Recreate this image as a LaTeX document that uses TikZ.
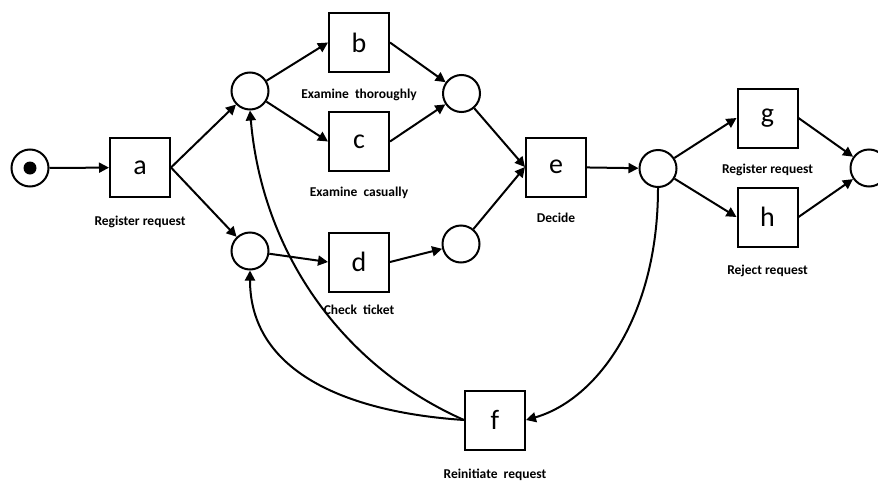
\documentclass[tikz,border=0pt]{standalone}
\usepackage{fontspec}
\setmainfont{Carlito}
\usetikzlibrary{arrows.meta,positioning}

\begin{document}
\begin{tikzpicture}
    [x=1pt, y=1pt, line width=2pt,
    place/.style={draw,circle,minimum size=37pt,inner sep=0pt},
    trans/.style={draw,rectangle,minimum width=60pt,minimum height=59pt,inner sep=0pt,
        font=\fontsize{28}{28}\selectfont},
    lbl/.style={font=\bfseries\fontsize{13.5}{14}\selectfont,inner sep=0pt,
        text height=9pt,text depth=3pt},
    arc/.style={-{Triangle[length=10pt,width=10pt]}}]
    \useasboundingbox (0,0) rectangle (878,-482);

    % places
    \node[place] (start) at (30,-168) {};
    \fill (start) circle (6.5pt);
    \node[place] (p1) at (250,-91) {};
    \node[place] (p3) at (250,-251) {};
    \node[place] (p2) at (461.5,-93.5) {};
    \node[place] (p4) at (461,-244) {};
    \node[place] (p5) at (658,-168.5) {};
    \node[place] (pend) at (869,-168) {};

    % transitions
    \node[trans] (a) at (140,-167.5) {a};
    \node[trans] (b) at (359,-42.5) {b};
    \node[trans] (c) at (359,-141.5) {c};
    \node[trans] (d) at (359,-262) {d};
    \node[trans] (e) at (556,-167) {e};
    \node[trans] (f) at (495,-420) {f};
    \node[trans] (g) at (767.5,-118) {g};
    \node[trans] (h) at (767.5,-217) {h};

    \node[lbl, below=17pt of a] (la) {Register request};
    \node[lbl, below=15pt of b] (lb) {Examine~~thoroughly};
    \node[lbl, below=14pt of c] (lc) {Examine~~casually};
    \node[lbl, below=12pt of d] (ld) {Check~~ticket};
    \node[lbl, below=15pt of e] (le) {Decide};
    \node[lbl, below=18pt of f] (lf) {Reinitiate~~request};
    \node[lbl, below=15pt of g] (lg) {Register request};
    \node[lbl, below=17pt of h] (lh) {Reject request};

    \draw[arc] (start) -- (a);
    \draw[arc] (a.east) -- (p1);
    \draw[arc] (a.east) -- (p3);
    \draw[arc] (p1) -- (b.west);
    \draw[arc] (p1) -- (c.west);
    \draw[arc] (p3) -- (d.west);
    \draw[arc] (b.east) -- (p2);
    \draw[arc] (c.east) -- (p2);
    \draw[arc] (d.east) -- (p4);
    \draw[arc] (p2) -- (e.west);
    \draw[arc] (p4) -- (e.west);
    \draw[arc] (e) -- (p5);
    \draw[arc] (p5) -- (g.west);
    \draw[arc] (p5) -- (h.west);
    \draw[arc] (g.east) -- (pend);
    \draw[arc] (h.east) -- (pend);

    % loop back
    \draw[arc] (p5.south) .. controls +(0,-130) and +(70,20) .. (f.east);
    \draw[arc] (f.west) .. controls +(-124,55) and +(12,-140) .. (p1.south);
    \draw[arc] (f.west) .. controls +(-120,8) and +(0,-100) .. (p3.south);
\end{tikzpicture}
\end{document}
